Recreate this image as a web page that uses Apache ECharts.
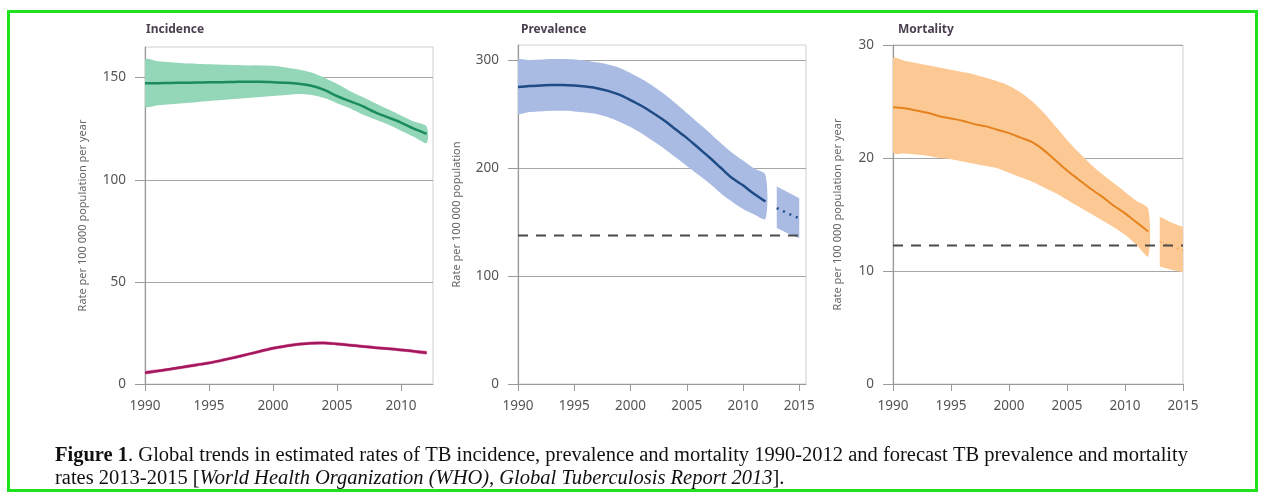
<!DOCTYPE html>
<html>
<head>
<meta charset="utf-8">
<script src="https://cdn.jsdelivr.net/npm/echarts@6/dist/echarts.min.js"></script>
<style>
html,body{margin:0;padding:0;background:#fff;}
#chart{width:1263px;height:495px;}
</style>
</head>
<body>
<div id="chart"></div>
<script>
// ---- data ----
const years = [1990,1991,1992,1993,1994,1995,1996,1997,1998,1999,2000,2001,2002,2003,2004,2005,2006,2007,2008,2009,2010,2011,2012];
const fcYears = [2013,2014,2015];
const xTicks1 = [1990,1995,2000,2005,2010];
const xTicks = [1990,1995,2000,2005,2010,2015];
const yTicksInc = [0,50,100,150];
const yTicksPrev = [0,100,200,300];
const yTicksMort = [0,10,20,30];

const incCenter = [147.2,147.3,147.4,147.5,147.6,147.7,147.8,147.9,148,148,147.8,147.5,147,146,144,141,138.5,136,133,130.5,128,125,122.5];
const incUpper  = [158.7,158,157.5,157,156.8,156.5,156.3,156.2,156,156,155.8,155,154,152.5,150,147,143.5,140.5,137.5,134.5,131.5,128.5,126];
const incLower  = [136,136.5,137,137.5,138,138.5,139,139.5,140,140.5,141,141.5,142,141.5,140,137.5,135,132,129.5,127,124,121,118];
const hivCenter = [5.5,6.4,7.3,8.3,9.3,10.3,11.6,13.0,14.5,16.0,17.5,18.6,19.5,20.0,20.1,19.6,19.0,18.4,17.8,17.3,16.7,16.0,15.3];
const hivUpper  = [6.3,7.2,8.1,9.1,10.1,11.1,12.4,13.8,15.3,16.8,18.3,19.4,20.3,20.8,20.9,20.4,19.8,19.2,18.6,18.1,17.5,16.8,16.1];
const hivLower  = [4.7,5.6,6.5,7.5,8.5,9.5,10.8,12.2,13.7,15.2,16.7,17.8,18.7,19.2,19.3,18.8,18.2,17.6,17.0,16.5,15.9,15.2,14.5];

const prevCenter = [275,276,276.5,277,277,276.5,275.5,274,271.5,268,263,257.5,251,244,236,228,219,210,200.5,191,184,176,169];
const prevUpper  = [300,300,300.5,301,301,300.5,299.5,298,296,293,288,282.5,276,268.5,260,251,242,233,223.5,214.5,207,199.5,193.5];
const prevLower  = [251,252,252.5,253,253,252.5,251.5,250,247,243,238,232,225,218,210,202,194,186,177,169,162,157,153];
const prevFcCenter = [163,158,153.5];
const prevFcUpper  = [183,177.5,172];
const prevFcLower  = [144.5,139.5,135];
const prevTarget = 137.5;

const mortCenter = [24.5,24.4,24.2,24.0,23.7,23.5,23.3,23.0,22.8,22.5,22.2,21.8,21.4,20.7,19.8,18.9,18.1,17.3,16.6,15.8,15.1,14.3,13.5];
const mortUpper  = [28.8,28.6,28.4,28.2,28.0,27.8,27.6,27.4,27.1,26.8,26.4,25.8,25.0,24.0,22.8,21.6,20.5,19.5,18.6,17.8,17.0,16.2,15.5];
const mortLower  = [20.5,20.4,20.3,20.2,20.0,19.9,19.7,19.5,19.3,19.1,18.7,18.3,17.9,17.4,16.9,16.3,15.7,15.1,14.5,13.9,13.2,12.3,11.3];
const mortFcCenter = [12.6,12.2,11.8];
const mortFcUpper  = [14.8,14.3,13.9];
const mortFcLower  = [10.4,10.1,9.9];
const mortTarget = 12.25;

// ---- helpers ----
const pairs = (xs, ys) => xs.map((x, i) => [x, ys[i]]);

function band(idx, xs, up, lo, color, smooth) {
  const rows = xs.map((x, i) => [x, lo[i], up[i]]);
  return {
    type:'custom', xAxisIndex:idx, yAxisIndex:idx, data:rows, silent:true, z:2,
    encode:{x:0, y:[1,2]}, clip:true,
    renderItem:function(params, api){
      if (params.dataIndex !== 0) return null;
      const top = rows.map(r => api.coord([r[0], r[2]]));
      const bot = rows.map(r => api.coord([r[0], r[1]])).reverse();
      return {
        type:'polygon',
        shape:{points: top.concat(bot), smooth: smooth},
        style:{fill: color, stroke: 'none'}
      };
    }
  };
}
function line(idx, xs, ys, color, width, type, smooth) {
  return { type:'line', xAxisIndex:idx, yAxisIndex:idx, data:pairs(xs, ys), symbol:'none',
    smooth:smooth, lineStyle:{color:color, width:width, type:type}, silent:true, z:4 };
}

const gridDefs = [
  {left:145, top:47, width:288, height:337},
  {left:518, top:45, width:288, height:339},
  {left:893, top:45, width:290, height:339}
];
const axisGray = '#9a9a9a';
const labelStyle = {color:'#555', fontSize:13.5, fontFamily:'Noto Sans', formatter: v => String(v)};

function xAxisDef(idx, max, ticks) {
  return {
    type:'value', gridIndex:idx, min:1990, max:max, interval:5,
    axisLine:{show:true, lineStyle:{color:axisGray, width:1.2}},
    axisTick:{show:true, length:7, lineStyle:{color:axisGray}, customValues:ticks},
    axisLabel:Object.assign({margin:15, customValues:ticks}, labelStyle),
    splitLine:{show:false}
  };
}
function yAxisDef(idx, max, interval, ticks, name, gap) {
  return {
    type:'value', gridIndex:idx, min:0, max:max, interval:interval,
    name:name, nameLocation:'middle', nameGap:gap, nameRotate:90,
    nameTextStyle:{color:'#666', fontSize:11, fontFamily:'Noto Sans'},
    axisLine:{show:true, lineStyle:{color:axisGray, width:1.2}},
    axisTick:{show:true, length:10, lineStyle:{color:axisGray}, customValues:ticks},
    axisLabel:Object.assign({margin:19, customValues:ticks}, labelStyle),
    splitLine:{show:true, lineStyle:{color:'#a6a6a6', width:1.2}}
  };
}

const titleStyle = {color:'#4a3f4f', fontSize:12, fontWeight:'bold', fontFamily:'Noto Sans'};
const capSize = 20.5;

const series = [
  band(0, years, incUpper, incLower, '#93d6b8', 0.3),
  band(0, years, hivUpper, hivLower, '#ec8fbd', 0.3),
  line(0, years, incCenter, '#1a8c5c', 2.5, 'solid', 0.3),
  line(0, years, hivCenter, '#a3175c', 2.5, 'solid', 0.3),
  band(1, years, prevUpper, prevLower, '#a9bbe3', 0.3),
  band(1, fcYears, prevFcUpper, prevFcLower, '#a9bbe3', 0),
  line(1, years, prevCenter, '#1f4b86', 2.5, 'solid', 0.3),
  line(1, fcYears, prevFcCenter, '#1f4b86', 2.5, [2,5], 0),
  line(1, [1990, 2015], [prevTarget, prevTarget], '#4a4a4a', 2, [10,8], 0),
  band(2, years, mortUpper, mortLower, '#fcc994', 0.3),
  band(2, fcYears, mortFcUpper, mortFcLower, '#fcc994', 0),
  line(2, years, mortCenter, '#e5821e', 2, 'solid', 0.3),
  line(2, fcYears, mortFcCenter, '#f0a860', 1.5, [2,4], 0),
  line(2, [1990, 2015], [mortTarget, mortTarget], '#4a4a4a', 2, [10,8], 0)
];

const option = {
  animation:false,
  backgroundColor:'#fff',
  title:[
    {text:'Incidence', left:141, top:19, textStyle:titleStyle},
    {text:'Prevalence', left:516, top:19, textStyle:titleStyle},
    {text:'Mortality', left:893, top:19, textStyle:titleStyle},
    {text:'{b|Figure 1}{n|. Global trends in estimated rates of TB incidence, prevalence and mortality 1990-2012 and forecast TB prevalence and mortality}',
     left:50, top:440,
     textStyle:{fontWeight:'normal', rich:{
       b:{fontFamily:'Liberation Serif', fontSize:capSize, fontWeight:'bold', color:'#111'},
       n:{fontFamily:'Liberation Serif', fontSize:capSize, fontWeight:'normal', color:'#111'}
     }}},
    {text:'{n|rates 2013-2015 [}{i|World Health Organization (WHO), Global Tuberculosis Report 2013}{n|].}',
     left:50, top:463,
     textStyle:{fontWeight:'normal', rich:{
       n:{fontFamily:'Liberation Serif', fontSize:capSize, fontWeight:'normal', color:'#111'},
       i:{fontFamily:'Liberation Serif', fontSize:capSize, fontWeight:'normal', fontStyle:'italic', color:'#111'}
     }}}
  ],
  grid:gridDefs.map(g => Object.assign({show:true, borderColor:'#cfcfcf', borderWidth:1, containLabel:false}, g)),
  xAxis:[xAxisDef(0, 2012.5, xTicks1), xAxisDef(1, 2015.6, xTicks), xAxisDef(2, 2015, xTicks)],
  yAxis:[
    yAxisDef(0, 165, 50, yTicksInc, 'Rate per 100 000 population per year', 57),
    yAxisDef(1, 314, 100, yTicksPrev, 'Rate per 100 000 population', 56),
    yAxisDef(2, 30, 10, yTicksMort, 'Rate per 100 000 population per year', 50)
  ],
  series:series,
  graphic:[
    {type:'rect', shape:{x:8.5, y:11.5, width:1248, height:479}, style:{fill:'none', stroke:'#1ee21e', lineWidth:3}, z:100}
  ]
};

const chart = echarts.init(document.getElementById('chart'), null, {renderer:'canvas'});
chart.setOption(option);
</script>
</body>
</html>
